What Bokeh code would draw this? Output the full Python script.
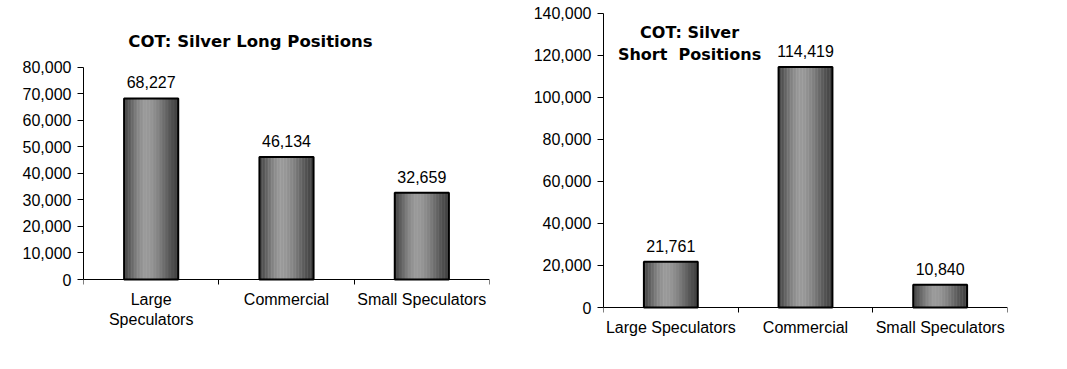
import numpy as np
from bokeh.plotting import figure
from bokeh.models import (ColumnDataSource, Range1d, FixedTicker, NumeralTickFormatter, Label)
from bokeh.layouts import row
from bokeh.embed import file_html
from bokeh.resources import INLINE
from bokeh.core.properties import value

# ---- data ----
categories = ["Large Speculators", "Commercial", "Small Speculators"]
long_labels = ["Large\nSpeculators", "Commercial", "Small Speculators"]
long_positions = [68227, 46134, 32659]
short_positions = [21761, 114419, 10840]
long_title = "COT: Silver Long Positions"
short_title = "COT: Silver\nShort  Positions"
long_ticks = [0, 10000, 20000, 30000, 40000, 50000, 60000, 70000, 80000]
short_ticks = [0, 20000, 40000, 60000, 80000, 100000, 120000, 140000]

FONT = "Liberation Sans"
TITLE_FONT = "DejaVu Sans"
BAR_W = 0.4
N_STRIPS = 36
prof_t = [0.0, 0.08, 0.25, 0.38, 0.5, 0.65, 0.85, 1.0]
prof_v = [0x44, 0x55, 0x85, 0x9b, 0x96, 0x80, 0x55, 0x3e]
FIG_H = 365


def make_fig(vals, ticks, yr, ybounds, width, borders, cat_labels, title, tx, ty, tsize):
    p = figure(width=width, height=FIG_H, output_backend="svg", toolbar_location=None,
               x_range=Range1d(0, len(categories)), y_range=Range1d(*yr),
               min_border_left=borders[0], min_border_right=borders[1],
               min_border_top=borders[2], min_border_bottom=borders[3])
    p.outline_line_color = None
    p.xgrid.visible = False
    p.ygrid.visible = False
    p.background_fill_color = "white"
    p.border_fill_color = "white"

    centers = [i + 0.5 for i in range(len(categories))]
    # gradient strips
    xs, tops, cols = [], [], []
    step = BAR_W / N_STRIPS
    for c, v in zip(centers, vals):
        for j in range(N_STRIPS):
            t = (j + 0.5) / N_STRIPS
            g = int(round(np.interp(t, prof_t, prof_v)))
            xs.append(c - BAR_W / 2 + (j + 0.5) * step)
            tops.append(v)
            cols.append("#%02x%02x%02x" % (g, g, g))
    src = ColumnDataSource(dict(x=xs, top=tops, color=cols))
    p.vbar(x="x", top="top", bottom=0, width=step * 1.3, fill_color="color",
           line_color=None, source=src)
    bsrc = ColumnDataSource(dict(x=centers, top=vals, base=[0] * len(vals),
                                 lab=[f"{v:,}" for v in vals], cat=cat_labels))
    p.vbar(x="x", top="top", bottom=0, width=BAR_W, fill_color=None,
           line_color="black", line_width=2, source=bsrc)
    p.text(x="x", y="top", text="lab", source=bsrc, text_align="center",
           text_baseline="alphabetic", y_offset=-16, text_font=value(FONT),
           text_font_size="16px", text_color="black")
    # category labels under the x axis
    p.text(x="x", y="base", text="cat", source=bsrc, text_align="center",
           text_baseline="top", y_offset=11, text_font=value(FONT),
           text_font_size="16px", text_color="black", text_line_height=1.2)

    # axes
    xa = p.xaxis[0]
    xa.fixed_location = 0
    xa.ticker = FixedTicker(ticks=[], minor_ticks=list(range(len(categories) + 1)))
    xa.major_tick_out = 0
    xa.major_tick_in = 0
    xa.minor_tick_out = 5
    xa.minor_tick_in = 0
    xa.minor_tick_line_color = "black"
    xa.axis_line_color = "black"
    xa.major_label_standoff = 0
    xa.major_label_text_font_size = "0px"

    ya = p.yaxis[0]
    ya.bounds = ybounds
    ya.ticker = FixedTicker(ticks=ticks, minor_ticks=[])
    ya.formatter = NumeralTickFormatter(format="0,0")
    ya.major_tick_out = 6
    ya.major_tick_in = 0
    ya.major_tick_line_color = "black"
    ya.axis_line_color = "black"
    ya.major_label_standoff = 6
    ya.major_label_text_font = FONT
    ya.major_label_text_font_size = "16px"
    ya.major_label_text_color = "black"

    p.add_layout(Label(x=tx, y=ty, text=title.replace("  ", " \u00a0"), text_align="center",
                       text_baseline="middle",
                       text_font=TITLE_FONT, text_font_style="bold", text_font_size=tsize,
                       text_color="black", text_line_height=1.2))
    return p


p1 = make_fig(long_positions, long_ticks, (-22986, 100612), (0, 80000), 530, (83, 41, 12, 25),
              long_labels, long_title, 1.234, 89800, "16.5px")
p2 = make_fig(short_positions, short_ticks, (-15698, 140333), (0, 140000), 527, (73, 50, 12, 25),
              categories, short_title, 0.639, 125600, "16px")

layout = row(p1, p2)
open("out.html", "w").write(file_html(layout, INLINE))
